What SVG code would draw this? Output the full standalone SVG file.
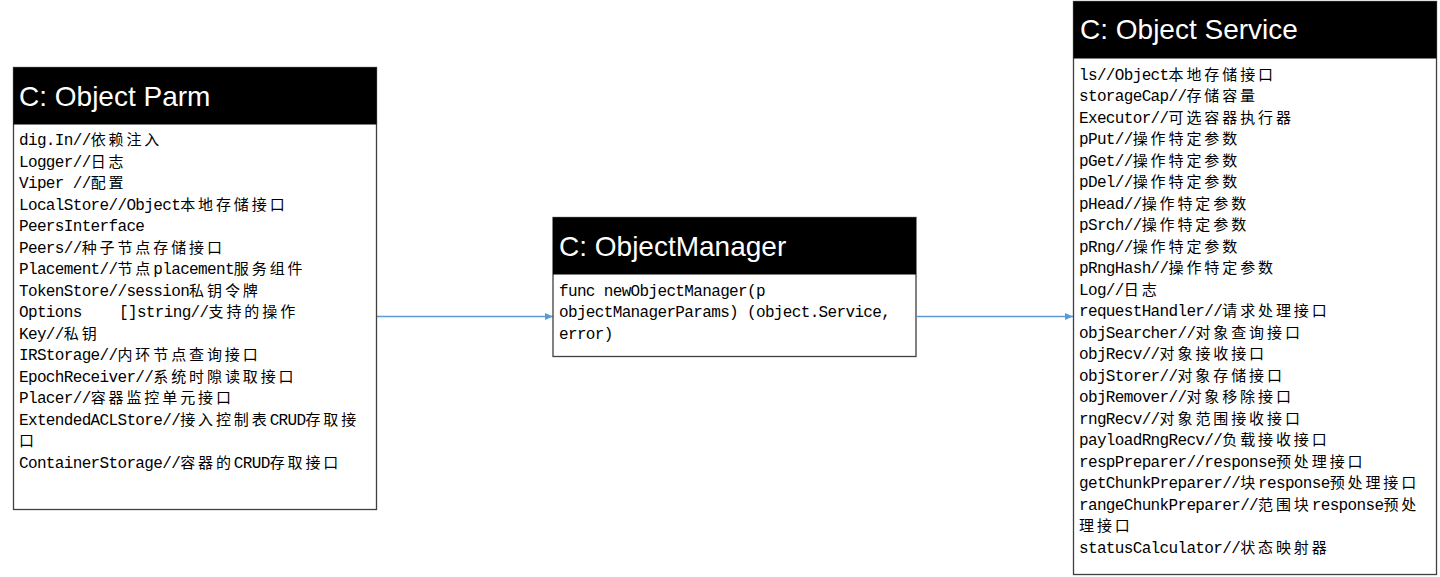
<svg xmlns="http://www.w3.org/2000/svg" width="1440" height="577" viewBox="0 0 1440 577">
<style>
.box{fill:#fff;stroke:#404040;stroke-width:1.3}
.hdr{fill:#000}
.ttl{font-family:"Liberation Sans",Arial,sans-serif;font-size:28px;fill:#fff}
.t{font-family:"Liberation Mono","Noto Sans CJK SC",monospace;font-size:16px;letter-spacing:-0.65px;fill:#000}
.c{font-family:"Noto Sans CJK SC",sans-serif;font-size:15px;letter-spacing:2.9px}
.edge{stroke:#5B9BD5;stroke-width:1.3;fill:none}
</style>
<defs>
<marker id="arr" markerWidth="8" markerHeight="8" refX="8" refY="4" orient="auto" markerUnits="userSpaceOnUse">
<path d="M0,0.5 L8,4 L0,7.5 Z" fill="#5B9BD5"/>
</marker>
</defs>
<rect width="1440" height="577" fill="#fff"/>

<g id="connectors">
<line class="edge" x1="377" y1="316.5" x2="553" y2="316.5" marker-end="url(#arr)"/>
<line class="edge" x1="917" y1="316.5" x2="1073" y2="316.5" marker-end="url(#arr)"/>
</g>

<g id="object-parm">
<rect class="box" x="13.5" y="67.5" width="363" height="442"/>
<rect class="hdr" x="13.5" y="67.5" width="363" height="57"/>
<text class="ttl" x="19" y="105.5">C: Object Parm</text>
<text class="t" x="19" y="145">dig.In//<tspan class="c">依赖注入</tspan></text>
<text class="t" x="19" y="166.5">Logger//<tspan class="c">日志</tspan></text>
<text class="t" x="19" y="188">Viper //<tspan class="c">配置</tspan></text>
<text class="t" x="19" y="209.5">LocalStore//Object<tspan class="c">本地存储接口</tspan></text>
<text class="t" x="19" y="231">PeersInterface</text>
<text class="t" x="19" y="252.5">Peers//<tspan class="c">种子节点存储接口</tspan></text>
<text class="t" x="19" y="274">Placement//<tspan class="c">节点</tspan>placement<tspan class="c">服务组件</tspan></text>
<text class="t" x="19" y="295.5">TokenStore//session<tspan class="c">私钥令牌</tspan></text>
<text class="t" x="19" y="317">Options<tspan x="119">[]string//</tspan><tspan class="c">支持的操作</tspan></text>
<text class="t" x="19" y="338.5">Key//<tspan class="c">私钥</tspan></text>
<text class="t" x="19" y="360">IRStorage//<tspan class="c">内环节点查询接口</tspan></text>
<text class="t" x="19" y="381.5">EpochReceiver//<tspan class="c">系统时隙读取接口</tspan></text>
<text class="t" x="19" y="403">Placer//<tspan class="c">容器监控单元接口</tspan></text>
<text class="t" x="19" y="424.5">ExtendedACLStore//<tspan class="c">接入控制表</tspan>CRUD<tspan class="c">存取接</tspan></text>
<text class="t" x="19" y="446"><tspan class="c">口</tspan></text>
<text class="t" x="19" y="467.5">ContainerStorage//<tspan class="c">容器的</tspan>CRUD<tspan class="c">存取接口</tspan></text>
</g>

<g id="object-manager">
<rect class="box" x="553" y="217.5" width="363" height="139"/>
<rect class="hdr" x="553" y="217.5" width="363" height="57"/>
<text class="ttl" x="559" y="255.5">C: ObjectManager</text>
<text class="t" x="559" y="295.5">func newObjectManager(p</text>
<text class="t" x="559" y="317">objectManagerParams) (object.Service,</text>
<text class="t" x="559" y="338.5">error)</text>
</g>

<g id="object-service">
<rect class="box" x="1073.5" y="1.5" width="363" height="573"/>
<rect class="hdr" x="1073.5" y="1.5" width="363" height="57"/>
<text class="ttl" x="1080" y="38.5">C: Object Service</text>
<text class="t" x="1079" y="79.5">ls//Object<tspan class="c">本地存储接口</tspan></text>
<text class="t" x="1079" y="101">storageCap//<tspan class="c">存储容量</tspan></text>
<text class="t" x="1079" y="122.5">Executor//<tspan class="c">可选容器执行器</tspan></text>
<text class="t" x="1079" y="144">pPut//<tspan class="c">操作特定参数</tspan></text>
<text class="t" x="1079" y="165.5">pGet//<tspan class="c">操作特定参数</tspan></text>
<text class="t" x="1079" y="187">pDel//<tspan class="c">操作特定参数</tspan></text>
<text class="t" x="1079" y="208.5">pHead//<tspan class="c">操作特定参数</tspan></text>
<text class="t" x="1079" y="230">pSrch//<tspan class="c">操作特定参数</tspan></text>
<text class="t" x="1079" y="251.5">pRng//<tspan class="c">操作特定参数</tspan></text>
<text class="t" x="1079" y="273">pRngHash//<tspan class="c">操作特定参数</tspan></text>
<text class="t" x="1079" y="294.5">Log//<tspan class="c">日志</tspan></text>
<text class="t" x="1079" y="316">requestHandler//<tspan class="c">请求处理接口</tspan></text>
<text class="t" x="1079" y="337.5">objSearcher//<tspan class="c">对象查询接口</tspan></text>
<text class="t" x="1079" y="359">objRecv//<tspan class="c">对象接收接口</tspan></text>
<text class="t" x="1079" y="380.5">objStorer//<tspan class="c">对象存储接口</tspan></text>
<text class="t" x="1079" y="402">objRemover//<tspan class="c">对象移除接口</tspan></text>
<text class="t" x="1079" y="423.5">rngRecv//<tspan class="c">对象范围接收接口</tspan></text>
<text class="t" x="1079" y="445">payloadRngRecv//<tspan class="c">负载接收接口</tspan></text>
<text class="t" x="1079" y="466.5">respPreparer//response<tspan class="c">预处理接口</tspan></text>
<text class="t" x="1079" y="488">getChunkPreparer//<tspan class="c">块</tspan>response<tspan class="c">预处理接口</tspan></text>
<text class="t" x="1079" y="509.5">rangeChunkPreparer//<tspan class="c">范围块</tspan>response<tspan class="c">预处</tspan></text>
<text class="t" x="1079" y="531"><tspan class="c">理接口</tspan></text>
<text class="t" x="1079" y="552.5">statusCalculator//<tspan class="c">状态映射器</tspan></text>
</g>
</svg>
